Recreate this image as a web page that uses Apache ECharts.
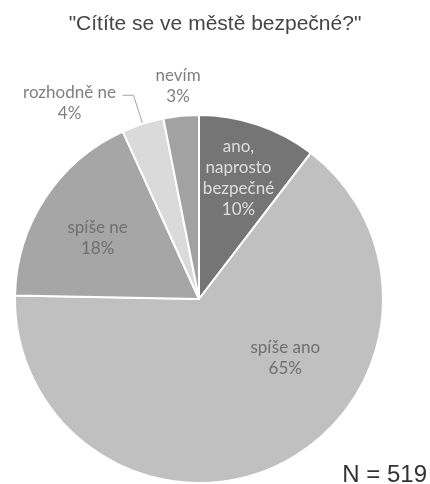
<!DOCTYPE html>
<html>
<head>
<meta charset="utf-8">
<script src="https://cdn.jsdelivr.net/npm/echarts@6/dist/echarts.min.js"></script>
<style>
html,body{margin:0;padding:0;background:#fff;}
#chart{width:430px;height:484px;}
</style>
</head>
<body>
<div id="chart"></div>
<script>
var titleText = '"Cítíte se ve městě bezpečné?"';
var footnote = 'N = 519';
var categories = ['ano, naprosto bezpečné', 'spíše ano', 'spíše ne', 'rozhodně ne', 'nevím'];
var values = [10.4, 64.9, 17.9, 3.7, 3.1];

var colors = ['#757575', '#c0c0c0', '#a6a6a6', '#dadada', '#a2a2a2'];
var labelColors = ['#dedede', '#6f6f6f', '#6f6f6f', '#7f7f7f', '#7f7f7f'];
var insideIdx = [0, 1, 2];
var labelShift = [[9, -31], [45, -27], [-22, -9], [0, 0], [50, -30]];

var chart = echarts.init(document.getElementById('chart'), null, {renderer: 'canvas'});

var dataItems = categories.map(function (name, i) {
  var inside = insideIdx.indexOf(i) >= 0;
  var item = {
    name: name,
    value: values[i],
    itemStyle: {color: colors[i]},
    label: {
      position: inside ? 'inside' : 'outside',
      color: labelColors[i]
    }
  };
  if (i === 3) {
    item.labelLine = {show: true, length: 30, length2: 11};
    item.label.padding = [16, 0, 0, 0];
  }
  if (i === 4) {
    item.labelLine = {show: false, length: 0, length2: 0};
  }
  return item;
});

chart.setOption({
  animation: false,
  title: [{
    text: titleText,
    left: 'center',
    top: 14,
    padding: 0,
    textStyle: {fontFamily: 'Liberation Sans', fontSize: 21, fontWeight: 'normal', color: '#454545'}
  }, {
    text: footnote,
    right: 3,
    bottom: -3,
    padding: 0,
    textStyle: {fontFamily: 'Liberation Sans', fontSize: 24, fontWeight: 'normal', color: '#333333'}
  }],
  series: [{
    type: 'pie',
    center: [199, 299],
    radius: [0, 184],
    startAngle: 90,
    clockwise: true,
    avoidLabelOverlap: false,
    data: dataItems,
    itemStyle: {borderColor: '#ffffff', borderWidth: 2},
    label: {
      fontFamily: 'Lato',
      fontSize: 17,
      lineHeight: 21,
      formatter: function (p) {
        var pct = Math.round(p.value) + '%';
        if (p.dataIndex === 0) {
          return p.name.replace(/ /g, '\n') + '\n' + pct;
        }
        if (insideIdx.indexOf(p.dataIndex) >= 0) {
          return p.name + '\n' + pct;
        }
        return '{c|' + p.name + '}\n{c|' + pct + '}';
      },
      rich: {
        c: {width: 96, align: 'center', fontFamily: 'Lato', fontSize: 17, lineHeight: 21}
      }
    },
    labelLine: {lineStyle: {color: '#a6a6a6', width: 1}},
    labelLayout: function (p) {
      var s = labelShift[p.dataIndex];
      if (!s || (s[0] === 0 && s[1] === 0)) return {};
      return {dx: s[0], dy: s[1]};
    }
  }]
});
</script>
</body>
</html>
